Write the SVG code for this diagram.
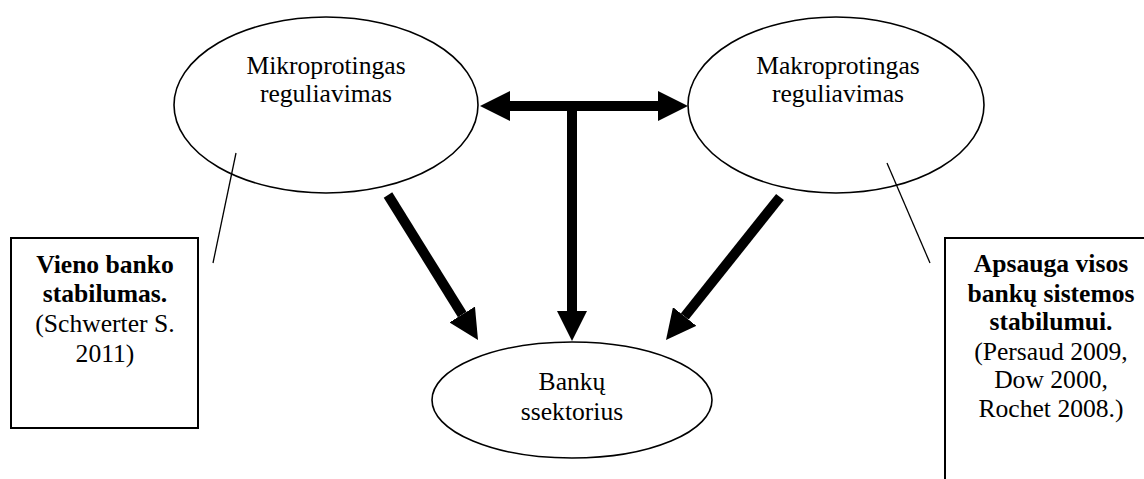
<svg xmlns="http://www.w3.org/2000/svg" width="1144" height="479" viewBox="0 0 1144 479">
<style>
.node{fill:#fff;stroke:#000;stroke-width:1.6}
.box{fill:#fff;stroke:#000;stroke-width:2}
text{font-size:25.6px;fill:#000;text-anchor:middle}
.b{font-weight:bold}
.arr{stroke:#000;stroke-width:10;fill:none}
.call{stroke:#000;stroke-width:1.3;fill:none}
</style>
<defs>
<marker id="ah" viewBox="0 0 3 3" refX="0" refY="1.5" markerWidth="3" markerHeight="3" orient="auto-start-reverse" markerUnits="strokeWidth">
<path d="M0,0 L3,1.5 L0,3 z" fill="#000"/>
</marker>
</defs>
<g font-family="Liberation Serif, Times New Roman, serif">
<g id="box-left">
<rect class="box" x="11" y="238" width="187" height="190"/>
<text class="b" x="105" y="273">Vieno banko</text>
<text class="b" x="105" y="302">stabilumas.</text>
<text x="105" y="332">(Schwerter S.</text>
<text x="105" y="362">2011)</text>
</g>
<g id="box-right">
<rect class="box" x="945" y="238" width="260" height="300"/>
<text class="b" x="1051" y="272">Apsauga visos</text>
<text class="b" x="1051" y="302">bankų sistemos</text>
<text class="b" x="1051" y="330">stabilumui.</text>
<text x="1051" y="360">(Persaud 2009,</text>
<text x="1051" y="388">Dow 2000,</text>
<text x="1051" y="417">Rochet 2008.)</text>
</g>
<g id="node-mikro">
<ellipse class="node" cx="326" cy="105" rx="152" ry="88"/>
<text x="326" y="74">Mikroprotingas</text>
<text x="326" y="102">reguliavimas</text>
</g>
<g id="node-makro">
<ellipse class="node" cx="836" cy="105" rx="148" ry="88"/>
<text x="838" y="74">Makroprotingas</text>
<text x="838" y="102">reguliavimas</text>
</g>
<g id="node-bank">
<ellipse class="node" cx="572" cy="400" rx="140" ry="58"/>
<text x="572" y="390">Bankų</text>
<text x="572" y="420">ssektorius</text>
</g>
</g>
<g id="connectors">
<line class="call" x1="236" y1="153" x2="213" y2="263"/>
<line class="call" x1="887" y1="163" x2="930" y2="263"/>
<line class="arr" x1="510" y1="106" x2="658" y2="106" marker-start="url(#ah)" marker-end="url(#ah)"/>
<line class="arr" x1="572" y1="101" x2="572" y2="311" marker-end="url(#ah)"/>
<line class="arr" x1="388" y1="195" x2="462.2" y2="314.5" marker-end="url(#ah)"/>
<line class="arr" x1="780" y1="197" x2="684.7" y2="316.5" marker-end="url(#ah)"/>
</g>
</svg>
